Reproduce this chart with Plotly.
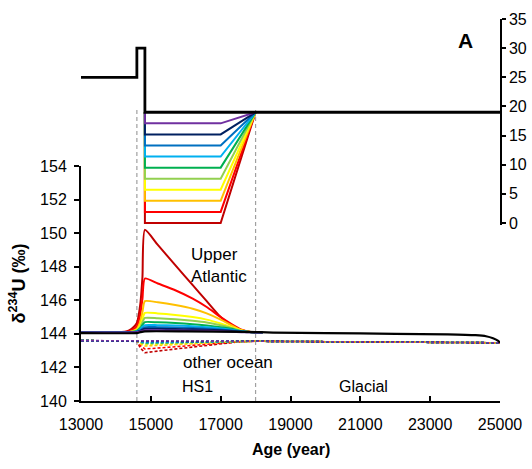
import plotly.graph_objects as go

# ---------------- data ----------------
COLORS = ["#C00000", "#FF0000", "#FFC000", "#FFFF00", "#92D050",
          "#00B050", "#00B0F0", "#0070C0", "#002060", "#7030A0"]

# top panel (right axis): forcing steps
TOP_X = [13000, 14600, 14600, 14830, 14830, 25000]
TOP_BLACK = [25, 25, 30, 30, 19, 19]
STAIR_X = [14830, 14830, 17000, 18000]
STAIR_LEVELS = [0.0, 1.9, 3.8, 5.7, 7.6, 9.5, 11.4, 13.3, 15.2, 17.1]

# lower panel: Upper Atlantic responses
UA_X = [13000, 14300, 14450, 14600, 14700, 14760, 14830, 15200, 15700,
        16200, 16600, 17000, 17300, 17600, 17900, 18200]
UA_DARKRED = [144.08, 144.15, 144.3, 144.65, 145.8, 147.4, 150.2, 149.3, 148.1,
              146.9, 145.95, 145.0, 144.55, 144.22, 144.1, 144.08]
UA_RED = [144.08, 144.12, 144.22, 144.45, 145.2, 146.1, 147.3, 147.0, 146.6,
          146.1, 145.6, 145.0, 144.6, 144.25, 144.1, 144.08]
UA_ORANGE = [144.08, 144.1, 144.15, 144.3, 144.75, 145.3, 145.95, 145.88, 145.72,
             145.5, 145.22, 144.85, 144.52, 144.22, 144.1, 144.08]
UA_YELLOW = [144.08, 144.1, 144.13, 144.25, 144.55, 144.9, 145.25, 145.22, 145.13,
             145.0, 144.85, 144.62, 144.42, 144.2, 144.1, 144.08]
UA_LGREEN = [144.08, 144.09, 144.12, 144.2, 144.42, 144.7, 144.95, 144.93, 144.87,
             144.78, 144.68, 144.52, 144.36, 144.18, 144.1, 144.08]
UA_GREEN = [144.08, 144.09, 144.11, 144.17, 144.35, 144.53, 144.7, 144.69, 144.65,
            144.58, 144.5, 144.4, 144.3, 144.16, 144.1, 144.08]
UA_LBLUE = [144.08, 144.09, 144.1, 144.15, 144.28, 144.42, 144.52, 144.52, 144.5,
            144.46, 144.4, 144.32, 144.25, 144.15, 144.1, 144.08]
UA_BLUE = [144.08, 144.08, 144.1, 144.13, 144.22, 144.32, 144.4, 144.4, 144.38,
           144.35, 144.31, 144.26, 144.21, 144.14, 144.1, 144.08]
UA_NAVY = [144.08, 144.08, 144.09, 144.12, 144.18, 144.25, 144.3, 144.3, 144.29,
           144.27, 144.24, 144.21, 144.17, 144.12, 144.09, 144.08]
UA_PURPLE = [144.08, 144.08, 144.09, 144.1, 144.14, 144.18, 144.21, 144.21, 144.2,
             144.19, 144.18, 144.16, 144.13, 144.1, 144.09, 144.08]
UA_SERIES = [UA_DARKRED, UA_RED, UA_ORANGE, UA_YELLOW, UA_LGREEN,
             UA_GREEN, UA_LBLUE, UA_BLUE, UA_NAVY, UA_PURPLE]

# lower panel: control (black) line
BLACK_X = [13000, 14600, 14700, 14830, 16000, 17800, 18500, 20000, 22000,
           23500, 24300, 24600, 24800, 24950, 25000]
BLACK_Y = [144.05, 144.05, 144.1, 144.15, 144.15, 144.12, 144.08, 144.05, 144.0,
           143.97, 143.92, 143.86, 143.74, 143.58, 143.47]

# lower panel: other ocean (dashed)
OO_X = [13000, 14600, 14700, 14830, 15500, 16200, 17000, 17500, 18000, 25000]
OO_DARKRED = [143.6, 143.58, 143.15, 142.88, 143.05, 143.22, 143.42, 143.52, 143.56, 143.47]
OO_RED = [143.6, 143.58, 143.3, 143.1, 143.2, 143.32, 143.46, 143.53, 143.56, 143.47]
OO_ORANGE = [143.6, 143.58, 143.4, 143.28, 143.34, 143.42, 143.5, 143.55, 143.56, 143.47]
OO_YELLOW = [143.6, 143.58, 143.45, 143.36, 143.4, 143.46, 143.52, 143.55, 143.56, 143.47]
OO_LGREEN = [143.6, 143.58, 143.48, 143.41, 143.44, 143.49, 143.53, 143.55, 143.56, 143.47]
OO_GREEN = [143.6, 143.58, 143.51, 143.46, 143.48, 143.51, 143.54, 143.56, 143.56, 143.47]
OO_LBLUE = [143.6, 143.58, 143.53, 143.49, 143.5, 143.53, 143.55, 143.56, 143.56, 143.47]
OO_BLUE = [143.6, 143.58, 143.55, 143.52, 143.53, 143.54, 143.55, 143.56, 143.56, 143.47]
OO_NAVY = [143.6, 143.58, 143.56, 143.54, 143.54, 143.55, 143.56, 143.56, 143.56, 143.47]
OO_PURPLE = [143.6, 143.59, 143.58, 143.57, 143.57, 143.57, 143.57, 143.57, 143.56, 143.47]
OO_SERIES = [OO_DARKRED, OO_RED, OO_ORANGE, OO_YELLOW, OO_LGREEN,
             OO_GREEN, OO_LBLUE, OO_BLUE, OO_NAVY, OO_PURPLE]

PERIOD_BOUNDS = [14600, 18000]
X_TICKS = [13000, 15000, 17000, 19000, 21000, 23000, 25000]
X_TICK_LABELS = ["13000", "15000", "17000", "19000", "21000", "23000", "25000"]
Y_TICKS = [140, 142, 144, 146, 148, 150, 152, 154]
Y2_TICKS = [0, 5, 10, 15, 20, 25, 30, 35]

FONT = "Liberation Sans, Arial, sans-serif"

fig = go.Figure()

# other ocean dashed
for vals, c in zip(OO_SERIES, COLORS):
    fig.add_trace(go.Scatter(x=OO_X, y=vals, mode="lines", xaxis="x", yaxis="y",
                             line=dict(color=c, width=1.6, dash="3px,2px"),
                             showlegend=False, hoverinfo="skip"))

# upper Atlantic curves
for vals, c in zip(UA_SERIES, COLORS):
    fig.add_trace(go.Scatter(x=UA_X, y=vals, mode="lines", xaxis="x", yaxis="y",
                             line=dict(color=c, width=2, shape="spline", smoothing=0.6),
                             showlegend=False, hoverinfo="skip"))

fig.add_trace(go.Scatter(x=BLACK_X, y=BLACK_Y, mode="lines", xaxis="x", yaxis="y",
                         line=dict(color="black", width=2.2, shape="spline", smoothing=0.5),
                         showlegend=False, hoverinfo="skip"))

# top stairs
for lvl, c in zip(STAIR_LEVELS, COLORS):
    fig.add_trace(go.Scatter(x=STAIR_X, y=[TOP_BLACK[-1], lvl, lvl, TOP_BLACK[-1]],
                             mode="lines", xaxis="x", yaxis="y2",
                             line=dict(color=c, width=2),
                             showlegend=False, hoverinfo="skip"))

fig.add_trace(go.Scatter(x=TOP_X, y=TOP_BLACK, mode="lines", xaxis="x", yaxis="y2",
                         line=dict(color="black", width=2.8),
                         showlegend=False, hoverinfo="skip"))

shapes = []
for b in PERIOD_BOUNDS:
    shapes.append(dict(type="line", xref="x", yref="paper", x0=b, x1=b, y0=0, y1=0.767,
                       line=dict(color="#A0A0A0", width=1.2, dash="4px,3px"), layer="below"))

tick_font = dict(family=FONT, size=16, color="black")

fig.update_layout(
    template="none",
    width=532, height=469,
    margin=dict(l=81, r=32, t=19, b=68, autoexpand=False),
    paper_bgcolor="white", plot_bgcolor="rgba(0,0,0,0)",
    font=dict(family=FONT, color="black"),
    showlegend=False,
    shapes=shapes,
    xaxis=dict(range=[13000, 25000], tickvals=X_TICKS, ticktext=X_TICK_LABELS,
               ticks="inside", ticklen=5,
               tickwidth=1.5, tickcolor="black", showline=True, linecolor="black",
               linewidth=2, showgrid=False, zeroline=False, tickfont=tick_font,
               anchor="y", ticklabelstandoff=8, automargin=False),
    yaxis=dict(domain=[0, 0.615], range=[140, 154], tickvals=Y_TICKS, ticks="outside",
               ticklen=5, tickwidth=1.5, tickcolor="black", showline=True,
               linecolor="black", linewidth=2, showgrid=False, zeroline=False,
               tickfont=tick_font, anchor="x", ticklabelstandoff=4, automargin=False),
    yaxis2=dict(domain=[0.4614, 1.0], range=[-0.3, 35], tickvals=Y2_TICKS,
                ticks="outside", ticklen=4, tickwidth=1.5, tickcolor="black",
                showline=True, linecolor="black", linewidth=1.5, showgrid=False,
                zeroline=False, tickfont=tick_font, anchor="x", side="right",
                automargin=False),
)

ann = [
    dict(text="<b>A</b>", x=0.9165, y=0.945, xref="paper", yref="paper",
         xanchor="center", yanchor="middle",
         showarrow=False, font=dict(size=21, family=FONT)),
    dict(text="Upper<br>Atlantic", x=16100, y=148.1, xref="x", yref="y",
         xanchor="left", yanchor="middle", align="left", showarrow=False,
         font=dict(size=17, family=FONT)),
    dict(text="other ocean", x=17200, y=142.28, xref="x", yref="y",
         showarrow=False, font=dict(size=17, family=FONT)),
    dict(text="HS1", x=16330, y=140.85, xref="x", yref="y",
         showarrow=False, font=dict(size=16, family=FONT)),
    dict(text="Glacial", x=21100, y=140.85, xref="x", yref="y",
         showarrow=False, font=dict(size=16, family=FONT)),
    dict(text="<b>Age (year)</b>", x=0.5, y=-0.128, xref="paper", yref="paper",
         xanchor="center", yanchor="middle", showarrow=False,
         font=dict(size=16, family=FONT)),
    dict(text="<b>δ<sup>234</sup>U (‰)</b>", x=-0.1504, y=0.3075,
         xref="paper", yref="paper", textangle=-90, showarrow=False,
         xanchor="center", yanchor="middle",
         font=dict(size=18, family=FONT)),
]
fig.update_layout(annotations=ann)

fig.write_html("out.html", config={"displayModeBar": False},
               post_script="document.body.style.margin='0px';document.body.style.overflow='hidden';")
